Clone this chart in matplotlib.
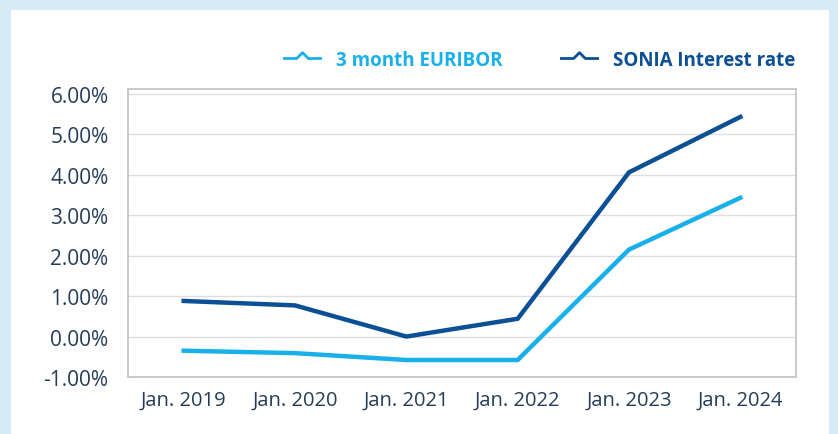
import matplotlib.pyplot as plt
from matplotlib.path import Path
from matplotlib.lines import Line2D
from matplotlib.ticker import FuncFormatter

years = ["Jan. 2019", "Jan. 2020", "Jan. 2021", "Jan. 2022", "Jan. 2023", "Jan. 2024"]
euribor = [-0.35, -0.41, -0.58, -0.58, 2.15, 3.43]
sonia = [0.88, 0.77, 0.0, 0.44, 4.06, 5.43]

c_eur = "#18b0ea"
c_son = "#0b4f95"
c_txt = "#253d57"

plt.rcParams['font.family'] = ['Open Sans', 'DejaVu Sans']

fig = plt.figure(figsize=(8.38, 4.35), dpi=100)
fig.patch.set_facecolor("#d5ebf8")
# white panel behind everything
bg = fig.add_axes([11/838, 0, (829-11)/838, (435-11)/435], zorder=-1)
bg.set_facecolor("white")
bg.set_xticks([])
bg.set_yticks([])
for s in bg.spines.values():
    s.set_visible(False)

ax = fig.add_axes([128/838, 1-378/435, (796-128)/838, (378-90)/435])
x = range(len(years))
ax.plot(x, euribor, color=c_eur, lw=3.2, solid_joinstyle='round')
ax.plot(x, sonia, color=c_son, lw=3.2, solid_joinstyle='round')

ax.set_xlim(-0.5, 5.5)
ax.set_ylim(-1, 6.12)
ax.set_yticks(range(-1, 7))
ax.yaxis.set_major_formatter(FuncFormatter(lambda v, p: "%.2f%%" % v))
ax.set_xticks(list(x))
ax.set_xticklabels(years, fontsize=14.5)
ax.tick_params(length=0, colors=c_txt)
ax.tick_params(axis='y', labelsize=15, pad=14)
ax.tick_params(axis='x', pad=9)
ax.grid(axis='y', color="#dedede", lw=1)
ax.set_axisbelow(True)
for s in ax.spines.values():
    s.set_color("#c0c0c0")
    s.set_linewidth(1.2)

bump = Path([(-1, 0), (-0.3, 0), (0, 0.3), (0.3, 0), (1, 0)])
h1 = Line2D([], [], color=c_eur, marker=bump, markersize=28, markeredgewidth=2,
            markerfacecolor='none', linestyle='none')
h2 = Line2D([], [], color=c_son, marker=bump, markersize=28, markeredgewidth=2,
            markerfacecolor='none', linestyle='none')
leg = fig.legend([h1, h2], ["3 month EURIBOR", "SONIA Interest rate"],
                 loc='center right', bbox_to_anchor=(812/838, 1-61/435),
                 ncol=2, frameon=False, handlelength=2.2, handletextpad=0.7,
                 columnspacing=3.0, prop={'weight': 'bold', 'size': 13.5})
for t, c in zip(leg.get_texts(), [c_eur, c_son]):
    t.set_color(c)

fig.savefig("out.png", dpi=100, facecolor=fig.get_facecolor())
